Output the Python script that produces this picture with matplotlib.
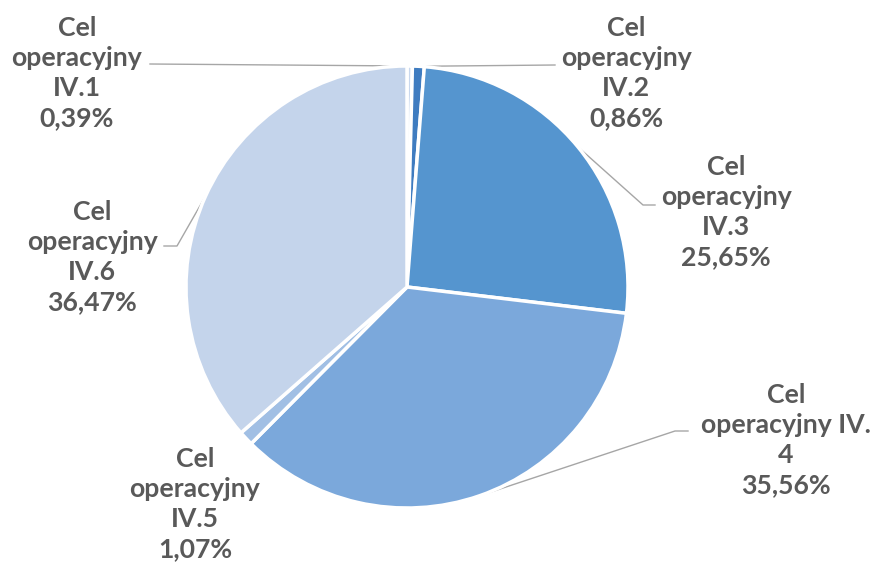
import matplotlib.pyplot as plt
import numpy as np

# data
names = ['Cel\noperacyjny\nIV.1', 'Cel\noperacyjny\nIV.2', 'Cel\noperacyjny\nIV.3',
         'Cel\noperacyjny IV.\n4', 'Cel\noperacyjny\nIV.5', 'Cel\noperacyjny\nIV.6']
shares = [0.39, 0.86, 25.65, 35.56, 1.07, 36.47]
colors = ['#c9d8ee', '#3f7cc0', '#5595cf', '#7ba8db', '#a1bfe4', '#c4d4eb']

W, H = 875, 563
cx, cy, r = 407, H - 287, 221

# label centres and leader elbows (pixel coords from top-left)
label_pos = [(77, 73), (626, 73), (726, 212), (786, 440), (195, 504), (92, 257)]
leaders = [[(150, 64)], [(555, 65)], [(643, 205), (655, 205)],
           [(675, 431), (688, 431)], None, [(177, 246), (164, 246)]]

fig = plt.figure(figsize=(W / 100, H / 100), dpi=100)
ax = fig.add_axes([0, 0, 1, 1])

wedges, _ = ax.pie(shares, colors=colors, startangle=90, counterclock=False,
                   center=(cx, cy), radius=r,
                   wedgeprops=dict(edgecolor='white', linewidth=2.5))
ax.set_xlim(0, W)
ax.set_ylim(0, H)
ax.set_aspect('equal')
ax.axis('off')

for w, name, val, pos, lead in zip(wedges, names, shares, label_pos, leaders):
    txt = name + '\n' + ('%.2f%%' % val).replace('.', ',')
    ax.text(pos[0], H - pos[1], txt, ha='center', va='center', ma='center',
            fontsize=19.2, family='Lato', fontweight='bold',
            color='#595959', linespacing=1.3)
    if lead:
        mid = np.deg2rad((w.theta1 + w.theta2) / 2)
        xs = [cx + r * np.cos(mid)] + [p[0] for p in lead]
        ys = [cy + r * np.sin(mid)] + [H - p[1] for p in lead]
        ax.plot(xs, ys, color='#a6a6a6', lw=1, zorder=0)

fig.savefig('out.png', dpi=100)
